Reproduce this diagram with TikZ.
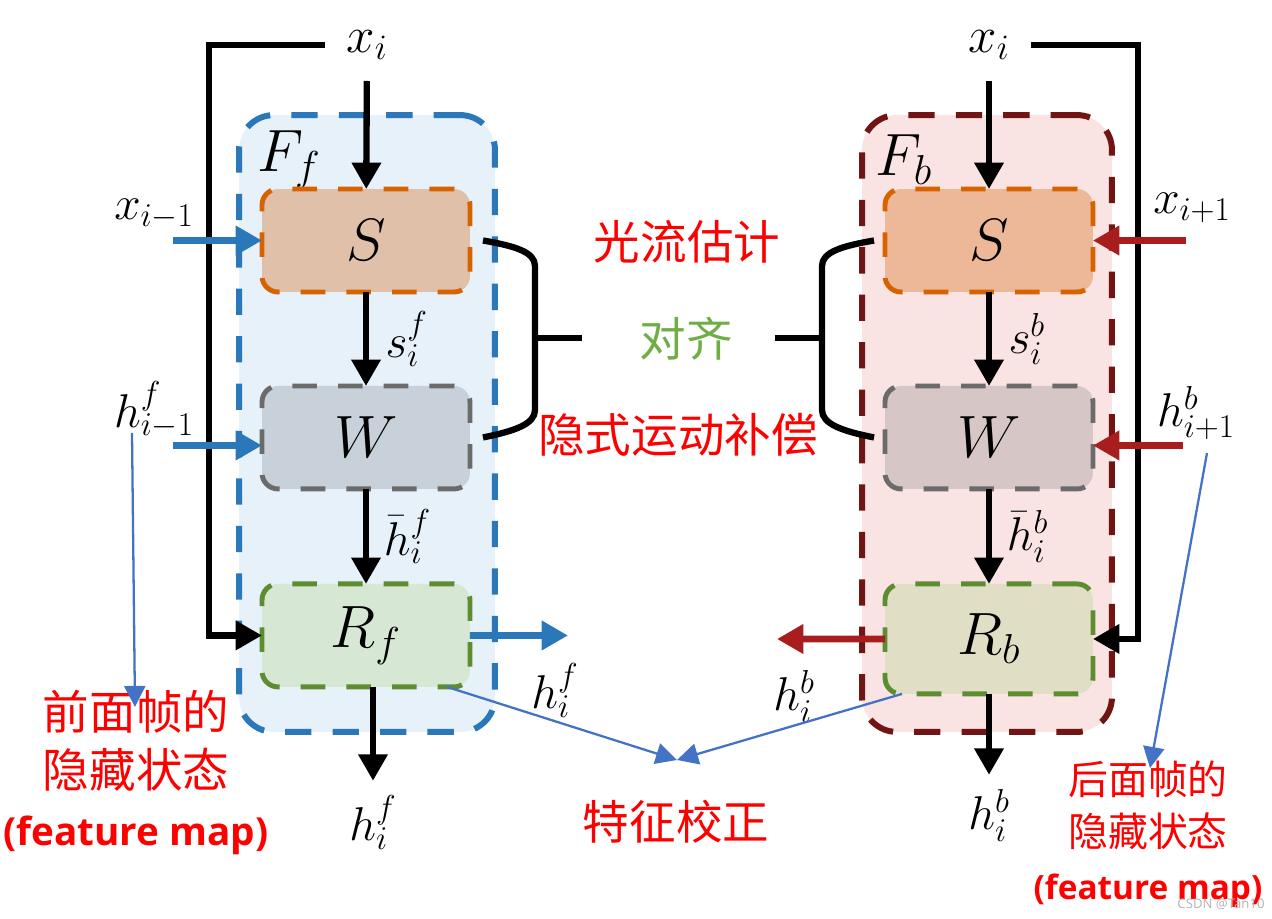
\RequirePackage{fix-cm}
\documentclass[tikz,border=0pt]{standalone}
\usepackage{fontspec}
\newfontfamily\cjk{Noto Sans CJK SC}
\newfontfamily\notesans{Open Sans}
\usepackage{tikz}
\usetikzlibrary{arrows.meta,positioning}
\usepackage{xcolor}
\definecolor{fblue}{HTML}{2A78BA}
\definecolor{fbluebg}{HTML}{E7F1FA}
\definecolor{bred}{HTML}{701414}
\definecolor{bredbg}{HTML}{FAE3E3}
\definecolor{arrred}{HTML}{A81E1E}
\definecolor{sorange}{HTML}{D76200}
\definecolor{sfillf}{HTML}{E0C0A8}
\definecolor{sfillb}{HTML}{EDB898}
\definecolor{wgray}{HTML}{6B6B6B}
\definecolor{wfillf}{HTML}{C8D0D9}
\definecolor{wfillb}{HTML}{D6C6C6}
\definecolor{rgreen}{HTML}{5E8C31}
\definecolor{rfillf}{HTML}{D6E8D4}
\definecolor{rfillb}{HTML}{E0DFC6}
\definecolor{noteblue}{HTML}{4472C4}
\definecolor{aligngreen}{HTML}{70AD47}

\begin{document}
\begin{tikzpicture}[x=0.02cm,y=-0.02cm,>={Triangle[length=15pt,width=16pt]},
                    line cap=butt]
  \tikzstyle{grp}=[line width=3.4pt,dash pattern=on 15pt off 12pt,rounded corners=0.7cm,outer sep=0pt]
  \tikzstyle{fgrp}=[grp,draw=fblue,fill=fbluebg,minimum width=5.12cm,minimum height=12.34cm]
  \tikzstyle{bgrp}=[grp,draw=bred,fill=bredbg,minimum width=5cm,minimum height=12.34cm]
  \tikzstyle{blk}=[line width=2.8pt,dash pattern=on 14pt off 12pt,rounded corners=0.32cm,outer sep=0pt,
                   minimum width=4.16cm,minimum height=2.06cm,font=\fontsize{34}{38}\selectfont]
  \tikzstyle{sblkf}=[blk,draw=sorange,fill=sfillf]
  \tikzstyle{sblkb}=[blk,draw=sorange,fill=sfillb]
  \tikzstyle{wblkf}=[blk,draw=wgray,fill=wfillf]
  \tikzstyle{wblkb}=[blk,draw=wgray,fill=wfillb]
  \tikzstyle{rblkf}=[blk,draw=rgreen,fill=rfillf]
  \tikzstyle{rblkb}=[blk,draw=rgreen,fill=rfillb,minimum height=2.2cm]
  \tikzstyle{lbl}=[font=\fontsize{27}{30}\selectfont]
  \tikzstyle{inlbl}=[font=\fontsize{29}{32}\selectfont]
  \tikzstyle{grplbl}=[font=\fontsize{34}{38}\selectfont]
  \tikzstyle{cjkred}=[text=red,font=\cjk\fontsize{26.5}{32}\selectfont]
  \tikzstyle{mainarr}=[->,line width=3.6pt]
  \tikzstyle{fwdarr}=[->,line width=3.8pt,draw=fblue]
  \tikzstyle{bwdarr}=[->,line width=3.8pt,draw=arrred]
  \tikzstyle{hintarr}=[-{Triangle[length=12pt,width=12pt]},line width=1.3pt,draw=noteblue]
  \tikzstyle{brace}=[line width=3.6pt]

  \useasboundingbox (0,0) rectangle (1272,919);

  % the two recurrent cells
  \node[fgrp] (Ff) at (367,423.5) {};
  \node[bgrp] (Fb) at (987,423.5) {};
  \node[grplbl] (Fflbl) at (289,160) {$F_f$};
  \node[grplbl] (Fblbl) at (904,160) {$F_b$};

  % forward branch
  \node[sblkf] (Sf) at (366,240.5) {$S$};
  \node[wblkf] (Wf) [below=1.88cm of Sf] {$W$};
  \node[rblkf] (Rf) [below=1.9cm of Wf] {$R_f$};
  \node[inlbl] (xf)    at (367,45)  {$x_i$};
  \node[lbl]   (xprev) at (154,214) {$x_{i-1}$};
  \node[lbl]   (hprev) at (154,410) {$h^f_{i-1}$};
  \node[lbl]   (hfout) at (373,822) {$h^f_i$};
  \node[lbl]   (hfside) at (555,690) {$h^f_i$};

  % backward branch
  \node[sblkb] (Sb) at (989,240.5) {$S$};
  \node[wblkb] (Wb) [below=1.88cm of Sb] {$W$};
  \node[rblkb] (Rb) [below=1.9cm of Wb] {$R_b$};
  \node[inlbl] (xb)    at (989,45)   {$x_i$};
  \node[lbl]   (xnext) at (1192,208) {$x_{i+1}$};
  \node[lbl]   (hnext) at (1196,413) {$h^b_{i+1}$};
  \node[lbl]   (hbout) at (989,815)  {$h^b_i$};
  \node[lbl]   (hbside) at (794,696) {$h^b_i$};

  % notes
  \node[cjkred] (flow) at (687,242) {光流估计};
  \node[cjkred,text=aligngreen] (align) at (686,339) {对齐};
  \node[cjkred] (mc) at (678,435) {隐式运动补偿};
  \node[cjkred] (fix) at (676,822) {特征校正};
  \node[cjkred,align=center,font=\cjk\fontsize{26.5}{33}\selectfont] (prevnote) at (136,772)
    {前面帧的\\隐藏状态\\{\notesans\bfseries\fontsize{22}{24}\selectfont (feature map)}};
  \node[cjkred,align=center,font=\cjk\fontsize{22.7}{30}\selectfont] (nextnote) at (1148,834)
    {后面帧的\\隐藏状态\\{\notesans\bfseries\fontsize{19}{20}\selectfont (feature map)}};
  \node[text=gray!60,font=\notesans\fontsize{7.5}{8}\selectfont] (mark) at (1221,904) {CSDN @Tan10};

  \coordinate (loopf) at (209,45);
  \coordinate (loopb) at (1138,45);
  \coordinate (foutf) at (568,635.5);
  \coordinate (boutb) at (777,639);
  \coordinate (fixin) at (677,760);
  \coordinate (hinta) at (132,433);
  \coordinate (hintb) at (135,707);
  \coordinate (hintc) at (1207,453);
  \coordinate (hintd) at (1150,768);
  \coordinate (joinf) at (535,338);
  \coordinate (armf)  at (582,338);
  \coordinate (joinb) at (822,338);
  \coordinate (armb)  at (775,338);

  % forward connections
  \draw[mainarr,shorten <=0.3cm] (xf) -- (Sf);
  \draw[mainarr] (Sf) -- node[lbl,right=6pt] {$s^f_i$} (Wf);
  \draw[mainarr] (Wf) -- node[lbl,right=5pt] {$\bar h^f_i$} (Rf);
  \draw[mainarr,shorten >=0.16cm] (Rf.south -| hfout) -- (hfout);
  \draw[mainarr,shorten <=0.3cm] (xf.west) -| (loopf |- Rf.west) -- (Rf.west);
  \draw[fwdarr] ([xshift=-1.78cm]Sf.west) -- (Sf.west);
  \draw[fwdarr] ([shift={(-1.78cm,-0.16cm)}]Wf.west) -- ([yshift=-0.16cm]Wf.west);
  \draw[fwdarr] (Rf.east) -- (foutf);

  % backward connections
  \draw[mainarr,shorten <=0.3cm] (xb) -- (Sb);
  \draw[mainarr] (Sb) -- node[lbl,right=6pt] {$s^b_i$} (Wb);
  \draw[mainarr] (Wb) -- node[lbl,right=5pt] {$\bar h^b_i$} (Rb);
  \draw[mainarr,shorten >=0.16cm] (Rb) -- (hbout);
  \draw[mainarr,shorten <=0.3cm] (xb.east) -| (loopb |- Rb.east) -- (Rb.east);
  \draw[bwdarr] ([xshift=1.86cm]Sb.east) -- (Sb.east);
  \draw[bwdarr] ([shift={(1.8cm,-0.16cm)}]Wb.east) -- ([yshift=-0.16cm]Wb.east);
  \draw[bwdarr] (Rb.west) -- (boutb);

  % alignment braces
  \draw[brace] ([xshift=0.26cm]Sf.east) .. controls (515,246) and (535,252) .. (535,266)
    -- (535,410) .. controls (535,424) and (515,431) .. ([xshift=0.26cm]Wf.east);
  \draw[brace] (joinf) -- (armf);
  \draw[brace] ([xshift=-0.22cm]Sb.west) .. controls (842,246) and (822,252) .. (822,266)
    -- (822,410) .. controls (822,424) and (842,431) .. ([xshift=-0.22cm]Wb.west);
  \draw[brace] (joinb) -- (armb);

  % hints
  \draw[hintarr] ([xshift=-0.46cm]Rf.south east) -- (fixin);
  \draw[hintarr] ([xshift=0.34cm]Rb.south west) -- (fixin);
  \draw[hintarr] (hinta) -- (hintb);
  \draw[hintarr] (hintc) -- (hintd);
\end{tikzpicture}
\end{document}
